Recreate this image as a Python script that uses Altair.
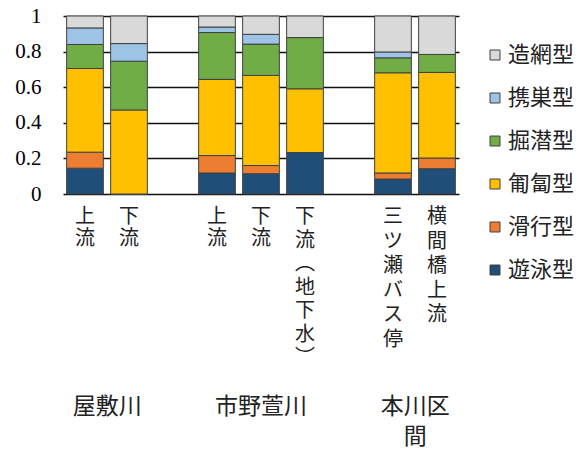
import altair as alt
import pandas as pd

# ---- data ----
slots = ["屋敷川 上流", "屋敷川 下流", " ", "市野萱川 上流", "市野萱川 下流",
         "市野萱川 下流(地下水)", "  ", "本川区間 三ツ瀬バス停", "本川区間 横間橋上流"]
sites = ["屋敷川 上流", "屋敷川 下流", "市野萱川 上流", "市野萱川 下流",
         "市野萱川 下流(地下水)", "本川区間 三ツ瀬バス停", "本川区間 横間橋上流"]

types_bottom_up = ["遊泳型", "滑行型", "匍匐型", "掘潜型", "携巣型", "造網型"]
colors_bottom_up = ["#1F4E79", "#ED7D31", "#FFC000", "#70AD47", "#9DC3E6", "#D9D9D9"]

swim   = [0.145, 0.000, 0.118, 0.114, 0.233, 0.084, 0.142]
glide  = [0.090, 0.000, 0.098, 0.046, 0.000, 0.034, 0.060]
crawl  = [0.470, 0.472, 0.428, 0.506, 0.358, 0.563, 0.481]
burrow = [0.135, 0.274, 0.263, 0.176, 0.288, 0.084, 0.101]
case   = [0.093, 0.099, 0.031, 0.055, 0.000, 0.033, 0.000]
net    = [0.067, 0.155, 0.062, 0.103, 0.121, 0.202, 0.216]
series = [swim, glide, crawl, burrow, case, net]

# vertical tick labels (one character per line)
short_sites = ["屋敷川 上流", "屋敷川 下流", "市野萱川 上流", "市野萱川 下流"]
short_labels = ["上\n流", "下\n流", "上\n流", "下\n流"]
long_sites = ["本川区間 三ツ瀬バス停", "本川区間 横間橋上流"]
long_labels = ["三\nツ\n瀬\nバ\nス\n停", "横\n間\n橋\n上\n流"]
paren_site = ["市野萱川 下流(地下水)"]
paren_label = ["下\n流\n︵\n地\n下\n水\n︶"]

pair_group_anchor = ["屋敷川 上流", "本川区間 三ツ瀬バス停"]
pair_group_label = ["屋敷川", "本川区\n間"]
mid_group_anchor = ["市野萱川 下流"]
mid_group_label = ["市野萱川"]

rows = []
for t_i, (t, vals) in enumerate(zip(types_bottom_up, series)):
    for s, v in zip(sites, vals):
        rows.append({"site": s, "type": t, "value": v, "rank": t_i})
df = pd.DataFrame(rows)

legend_order = types_bottom_up[::-1]
legend_colors = colors_bottom_up[::-1]

CJK = "Noto Sans CJK JP"
SERIF = "Liberation Serif, Times New Roman, serif"

xscale = alt.Scale(domain=slots, paddingInner=0.166, paddingOuter=0.083)

bars = alt.Chart(df).mark_bar(stroke="#404040", strokeWidth=1).encode(
    x=alt.X("site:N", scale=xscale, axis=None, sort=slots),
    y=alt.Y("value:Q", stack="zero", scale=alt.Scale(domain=[0, 1], nice=False),
            axis=alt.Axis(values=[0, 0.2, 0.4, 0.6, 0.8, 1.0], format="~g", title=None,
                          domain=False, ticks=False, labelPadding=22,
                          labelFont=SERIF, labelFontSize=21, labelColor="#000",
                          grid=True, gridColor="#111", gridWidth=1.3)),
    color=alt.Color("type:N", scale=alt.Scale(domain=legend_order, range=legend_colors),
                    legend=alt.Legend(title=None, orient="none", legendX=421, legendY=28,
                                      symbolType="square", symbolSize=100,
                                      symbolStrokeColor="#404040", symbolStrokeWidth=1,
                                      labelFont=CJK, labelFontSize=22, labelColor="#222",
                                      labelOffset=2, rowPadding=21, padding=0)),
    order=alt.Order("rank:Q"),
)


def vlabels(sites_list, labels_list, line_h):
    d = pd.DataFrame({"site": sites_list, "label": labels_list})
    return alt.Chart(d).mark_text(
        font=CJK, fontSize=20, lineBreak="\n", lineHeight=line_h, baseline="top",
        align="center", color="#222"
    ).encode(x=alt.X("site:N", scale=xscale, sort=slots), y=alt.value(191), text="label:N")


short_txt = vlabels(short_sites, short_labels, 22)
long_txt = vlabels(long_sites, long_labels, 24.5)
paren_txt = vlabels(paren_site, paren_label, 23.5)

pair_df = pd.DataFrame({"site": pair_group_anchor, "label": pair_group_label})
pair_txt = alt.Chart(pair_df).mark_text(
    font=CJK, fontSize=23, lineBreak="\n", lineHeight=30, baseline="top",
    align="center", color="#222", dx=4
).encode(x=alt.X("site:N", scale=xscale, sort=slots, bandPosition=1),
         y=alt.value(380), text="label:N")

mid_df = pd.DataFrame({"site": mid_group_anchor, "label": mid_group_label})
mid_txt = alt.Chart(mid_df).mark_text(
    font=CJK, fontSize=23, lineBreak="\n", lineHeight=30, baseline="top",
    align="center", color="#222"
).encode(x=alt.X("site:N", scale=xscale, sort=slots), y=alt.value(380), text="label:N")

chart = alt.layer(bars, short_txt, long_txt, paren_txt, pair_txt, mid_txt).properties(
    width=396, height=178,
    autosize=alt.AutoSizeParams(type="none"),
    padding={"left": 63, "top": 16, "right": 128, "bottom": 258},
    background="white",
).configure_view(stroke=None)

chart.save("out.html", embed_options={"renderer": "svg", "actions": False})
